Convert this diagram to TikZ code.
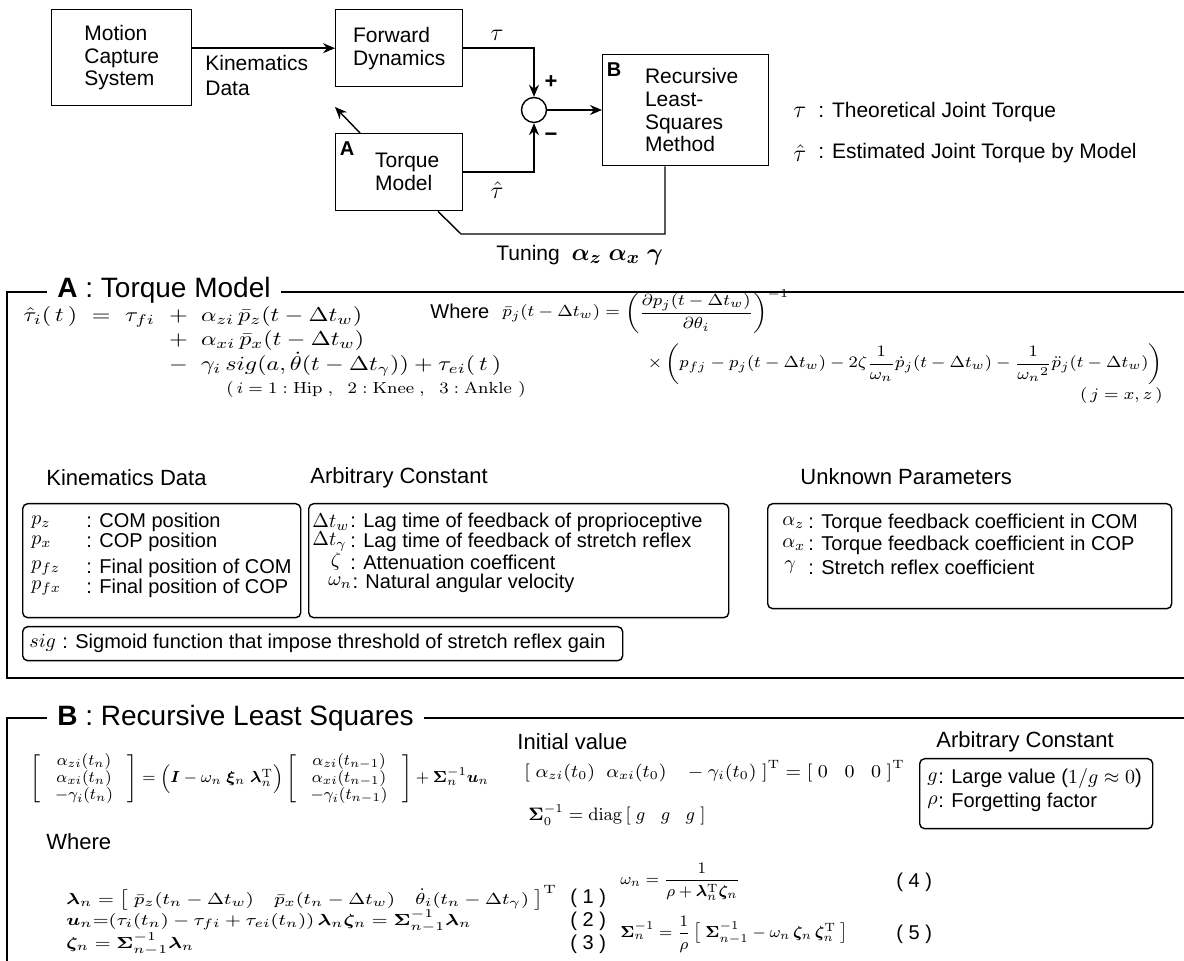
\documentclass[tikz,border=0pt]{standalone}
\usepackage{amsmath,amssymb}
\usepackage{bm}
\usepackage{graphicx}
\usepackage[no-math]{fontspec}
\setsansfont{Liberation Sans}
\usetikzlibrary{arrows.meta,calc}
\newcommand{\hsx}[2]{\scalebox{#1}[1]{#2}}
\begin{document}
\begin{tikzpicture}[x=0.5pt,y=-0.5pt,
  lbl/.style={inner sep=0pt, font=\sffamily\fontsize{10.5}{12.5}\selectfont},
  blk/.style={draw, line width=0.7pt, inner sep=0pt, align=left, font=\sffamily\fontsize{10.5}{11.4}\selectfont},
  rbox/.style={draw, line width=0.7pt, rounded corners=2.5pt, inner sep=0pt},
  eqa/.style={inner sep=0pt, font=\fontsize{10}{12}\selectfont},
  eqr/.style={inner sep=0pt, font=\fontsize{8.5}{10}\selectfont},
  eqs/.style={inner sep=0pt, font=\fontsize{9}{10}\selectfont},
  eqb/.style={inner sep=0pt, font=\fontsize{8.5}{9.5}\selectfont},
  eqn/.style={inner sep=0pt, font=\fontsize{8.5}{10}\selectfont},
  arr/.style={-{Stealth[length=6pt,width=5pt]}, line width=0.7pt},
  ln/.style={line width=0.7pt},
  frame/.style={line width=0.9pt},
  ttl/.style={inner sep=0pt, fill=white, inner xsep=5pt, font=\sffamily\fontsize{14}{16}\selectfont},
  hdr/.style={inner sep=0pt, font=\sffamily\fontsize{11}{13}\selectfont},
  row/.style={inner sep=0pt, font=\sffamily\fontsize{10}{12}\selectfont},
  sym/.style={inner sep=0pt, font=\fontsize{10}{12}\selectfont},
  lab/.style={inner sep=0pt, font=\sffamily\bfseries\fontsize{10}{12}\selectfont}]
\useasboundingbox (0,0) rectangle (1184,961);

% ---------------- top block diagram
\node[blk,anchor=north west,minimum width=70pt,minimum height=48pt] (mcs) at (51,9) {Motion\\Capture\\System};
\node[blk,anchor=north west,minimum width=63.5pt,minimum height=38.5pt] (fd) at (335,9) {Forward\\Dynamics};
\node[blk,anchor=north west,minimum width=63.5pt,minimum height=38.5pt] (tm) at (335,133) {\hspace*{8pt}Torque\\\hspace*{8pt}Model};
\node[blk,anchor=north west,minimum width=83pt,minimum height=55.5pt] (rls) at (602,54) {\hspace*{6pt}Recursive\\\hspace*{6pt}Least-\\\hspace*{6pt}Squares\\\hspace*{6pt}Method};
\node[lab] (alab) at ($(tm.north west)+(12,16)$) {A};
\node[lab] (blab) at ($(rls.north west)+(12,16)$) {B};
\node[draw,ln,circle,minimum size=12.5pt,inner sep=0pt] (sum) at (534,110) {};

\draw[arr] (mcs.east |- fd.west) -- (fd.west);
\draw[arr] (fd.east) -| (sum.north);
\draw[arr] (tm.east) -| (sum.south);
\draw[arr] (sum.east) -- (rls.west |- sum.east);
\coordinate (dtip) at (335,107);
\draw[arr] ($(tm.north west)+(25,0)$) -- (dtip);
\coordinate (tk1) at (461,234);
\coordinate (tk2) at (665,234);
\draw[ln] ($(tm.south west)+(103,0)$) -- (tk1) -- (tk2) -- (tk2 |- rls.south);

\node[inner sep=0pt,font=\fontsize{12}{14}\selectfont] (tau1) at (497,35) {$\tau$};
\node[inner sep=0pt,font=\fontsize{12}{14}\selectfont] (tau2) at (497,190) {$\hat\tau$};
\node[lbl,font=\sffamily\bfseries\fontsize{11}{12}\selectfont] (plus) at (551,82) {+};
\node[lbl,font=\sffamily\bfseries\fontsize{11}{12}\selectfont] (minus) at (551,137) {−};
\node[lbl,anchor=west,align=left] (kdlab) at (205,76) {Kinematics\\Data};
\node[lbl,anchor=west] (tun) at (496,255) {Tuning\ \ {\fontsize{12.5}{14}\selectfont$\bm{\alpha_z}\ \bm{\alpha_x}\ \bm{\gamma}$}};

\node[inner sep=0pt,font=\fontsize{12}{14}\selectfont,anchor=west] (lg1s) at (793,112) {$\tau$};
\node[lbl,anchor=west] (lg1) at (818,112) {: Theoretical Joint Torque};
\node[inner sep=0pt,font=\fontsize{12}{14}\selectfont,anchor=west] (lg2s) at (793,153) {$\hat\tau$};
\node[lbl,anchor=west] (lg2) at (818,153) {: Estimated Joint Torque by Model};

% ---------------- section A
\draw[frame] (1184,292) -- (7,292) -- (7,678) -- (1184,678);
\node[ttl,anchor=west] (ta) at (47,290) {\textbf{A} : Torque Model};

\node[eqa,anchor=base west] (ea1) at (23,322) {\hsx{1.2}{$\hat\tau_i(\,t\,)\ =\ \tau_{fi}$}};
\node[eqa,anchor=base west] (ea1b) at (ea1.base east) {\hsx{1.2}{${}\ +\ \alpha_{zi}\,\bar p_z(t-\Delta t_w)$}};
\node[eqa,anchor=base west] (ea2) at ($(ea1b.base west)+(0,24)$) {\hsx{1.2}{${}\ +\ \alpha_{xi}\,\bar p_x(t-\Delta t_w)$}};
\node[eqa,anchor=base west] (ea3) at ($(ea1b.base west)+(0,49)$) {\hsx{1.2}{${}\ -\ \gamma_i\,sig(a,\dot\theta(t-\Delta t_\gamma))+\tau_{ei}(\,t\,)$}};
\node[eqn,anchor=west] (ea4) at (226,390) {\hsx{1.1}{$(\,i=1:\mathrm{Hip}\;,\;\ 2:\mathrm{Knee}\;,\;\ 3:\mathrm{Ankle}\ )$}};

\node[row,anchor=base west] (wh1) at (430,319) {Where};
\node[eqr,anchor=base west] (eb1) at (502,317) {\hsx{1.1}{$\bar p_j(t-\Delta t_w) = \left(\dfrac{\partial p_j(t-\Delta t_w)}{\partial\theta_i}\right)^{-1}$}};
\node[eqr,anchor=base east] (eb2) at (1163,368) {\hsx{1.09}{$\times\left(p_{fj}-p_j(t-\Delta t_w)-2\zeta\dfrac{1}{\omega_n}\dot p_j(t-\Delta t_w)-\dfrac{1}{{\omega_n}^2}\ddot p_j(t-\Delta t_w)\right)$}};
\node[eqn,anchor=east] (eb3) at (1163,396) {\hsx{1.1}{$(\,j=x,z\,)$}};

% Kinematics data
\node[hdr,anchor=west] (hkd) at (46,478) {Kinematics Data};
\node[rbox,anchor=north west,minimum width=139pt,minimum height=57pt] (bkd) at (22,503) {};
\node[sym,anchor=west] (kd1s) at (31,522) {$p_z$};
\node[row,anchor=west] (kd1) at (86,522) {: COM position};
\node[sym,anchor=west] (kd2s) at (31,542) {$p_x$};
\node[row,anchor=west] (kd2) at (86,542) {: COP position};
\node[sym,anchor=west] (kd3s) at (31,568) {$p_{fz}$};
\node[row,anchor=west] (kd3) at (86,568) {: Final position of COM};
\node[sym,anchor=west] (kd4s) at (31,588) {$p_{fx}$};
\node[row,anchor=west] (kd4) at (86,588) {: Final position of COP};

% Arbitrary constant
\node[hdr,anchor=west] (hac) at (310,478) {Arbitrary Constant};
\node[rbox,anchor=north west,minimum width=210pt,minimum height=57pt] (bac) at (308,503) {};
\node[sym,anchor=west] (ac1s) at (312,522) {$\Delta t_w$};
\node[row,anchor=west] (ac1) at (350,522) {: Lag time of feedback of proprioceptive};
\node[sym,anchor=west] (ac2s) at (312,542) {$\Delta t_\gamma$};
\node[row,anchor=west] (ac2) at (350,542) {: Lag time of feedback of stretch reflex};
\node[sym] (ac3s) at (336,562) {$\zeta$};
\node[row,anchor=west] (ac3) at (350,562) {: Attenuation coefficent};
\node[sym,anchor=west] (ac4s) at (328,583) {$\omega_n$};
\node[row,anchor=west] (ac4) at (ac4s.east) {: Natural angular velocity};

% Unknown parameters
\node[hdr,anchor=west] (hup) at (800,477) {Unknown Parameters};
\node[rbox,anchor=north west,minimum width=202pt,minimum height=52.5pt] (bup) at (767,503) {};
\node[sym,anchor=west] (up1s) at (782,523) {$\alpha_z$};
\node[row,anchor=west] (up1) at (808,523) {: Torque feedback coefficient in COM};
\node[sym,anchor=west] (up2s) at (782,545) {$\alpha_x$};
\node[row,anchor=west] (up2) at (808,545) {: Torque feedback coefficient in COP};
\node[sym,anchor=west] (up3s) at (784,567) {$\gamma$};
\node[row,anchor=west] (up3) at (808,567) {: Stretch reflex coefficient};

% sig
\node[rbox,anchor=north west,minimum width=300pt,minimum height=17pt] (bsig) at (22,626) {};
\node[sym,anchor=west] (sgs) at (29,643) {$sig$};
\node[row,anchor=west] (sg) at (62,643) {: Sigmoid function that impose threshold of stretch reflex gain};

% ---------------- section B
\draw[frame] (1184,718) -- (7,718) -- (7,961);
\node[ttl,anchor=west] (tb) at (47,718) {\textbf{B} : Recursive Least Squares};

\node[inner sep=0pt,font=\fontsize{8}{9}\selectfont,anchor=west] (mb) at (30,779) {$\renewcommand{\arraystretch}{0.95}\left[\;\begin{array}{c}\alpha_{zi}(t_n)\\ \alpha_{xi}(t_n)\\ -\gamma_i(t_n)\end{array}\;\right] = \Bigl(\bm I-\omega_n\;\bm\xi_n\;\bm\lambda_n^{\mathrm T}\Bigr)\left[\;\begin{array}{c}\alpha_{zi}(t_{n-1})\\ \alpha_{xi}(t_{n-1})\\ -\gamma_i(t_{n-1})\end{array}\;\right]+\bm\Sigma_n^{-1}\bm u_n$};

\node[hdr,anchor=west] (hiv) at (517,742) {Initial value};
\node[eqs,anchor=west] (iv1) at (524,771) {\hsx{1.08}{$\left[\;\alpha_{zi}(t_0)\;\;\alpha_{xi}(t_0)\;\;\;-\gamma_i(t_0)\;\right]^{\mathrm T}=\left[\;0\;\;\;0\;\;\;0\;\right]^{\mathrm T}$}};
\node[eqs,anchor=west] (iv2) at (528,815) {$\bm\Sigma_0^{-1}=\mathrm{diag}\left[\;g\;\;\;g\;\;\;g\;\right]$};

\node[hdr,anchor=west] (hac2) at (936,742) {Arbitrary Constant};
\node[rbox,anchor=north west,minimum width=116.5pt,minimum height=35pt] (bac2) at (919,758) {};
\node[sym,anchor=west] (bc1s) at (927,779) {$g$};
\node[row,anchor=west] (bc1) at (938,779) {: Large value ($1/g\approx 0$)};
\node[sym,anchor=west] (bc2s) at (927,802) {$\rho$};
\node[row,anchor=west] (bc2) at (938,802) {: Forgetting factor};

\node[hdr,anchor=west] (whb) at (46,842) {Where};
\node[eqb,anchor=west] (e1) at (66,898) {\hsx{1.2}{$\bm\lambda_n=\left[\;\bar p_z(t_n-\Delta t_w)\quad\bar p_x(t_n-\Delta t_w)\quad\dot\theta_i(t_n-\Delta t_\gamma)\;\right]^{\mathrm T}$}};
\node[eqb,anchor=west] (e2) at (66,921) {\hsx{1.2}{$\bm u_n{=}(\tau_i(t_n)-\tau_{fi}+\tau_{ei}(t_n))\,\bm\lambda_n\bm\zeta_n=\bm\Sigma_{n-1}^{-1}\bm\lambda_n$}};
\node[eqb,anchor=west] (e3) at (66,944) {\hsx{1.2}{$\bm\zeta_n=\bm\Sigma_{n-1}^{-1}\bm\lambda_n$}};
\node[row,anchor=west] (n1) at (570,898) {( 1 )};
\node[row,anchor=west] (n2) at (570,921) {( 2 )};
\node[row,anchor=west] (n3) at (570,944) {( 3 )};
\node[eqb,anchor=west] (e4) at (620,882) {$\omega_n=\dfrac{1}{\rho+\bm\lambda_n^{\mathrm T}\bm\zeta_n}$};
\node[eqb,anchor=west] (e5) at (620,934) {$\bm\Sigma_n^{-1}=\dfrac{1}{\rho}\left[\;\bm\Sigma_{n-1}^{-1}-\omega_n\,\bm\zeta_n\,\bm\zeta_n^{\mathrm T}\;\right]$};
\node[row,anchor=west] (n4) at (896,882) {( 4 )};
\node[row,anchor=west] (n5) at (896,934) {( 5 )};
\end{tikzpicture}
\end{document}
